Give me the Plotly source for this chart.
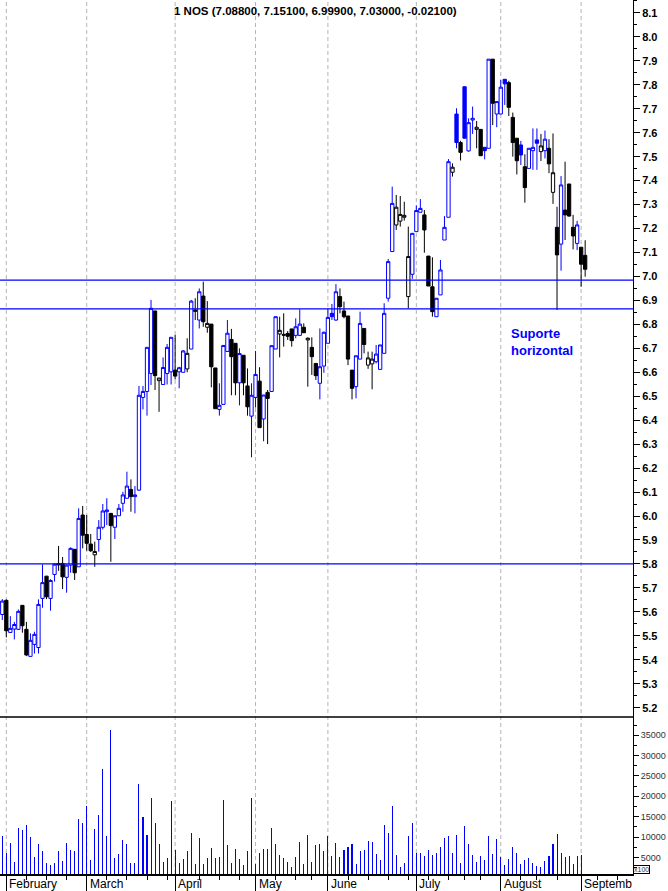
import plotly.graph_objects as go

# ---------------- data ----------------
day = list(range(146))

opens = [5.589, 5.648, 5.514, 5.528, 5.527, 5.627, 5.527, 5.414, 5.464, 5.451,
         5.656, 5.749, 5.656, 5.756, 5.802, 5.802, 5.744, 5.795, 5.861, 5.788,
         6.004, 5.923, 5.883, 5.838, 5.902, 5.953, 6.018, 6.011, 5.953, 6.001,
         6.053, 6.074, 6.111, 6.081, 6.108, 6.495, 6.520, 6.595, 6.856, 6.565,
         6.549, 6.595, 6.602, 6.609, 6.602, 6.600, 6.614, 6.697, 6.860, 6.818,
         6.918, 6.788, 6.801, 6.618, 6.445, 6.466, 6.687, 6.737, 6.721, 6.556,
         6.671, 6.543, 6.417, 6.495, 6.563, 6.405, 6.516, 6.520, 6.697, 6.760,
         6.758, 6.762, 6.781, 6.754, 6.754, 6.788, 6.735, 6.704, 6.637, 6.554,
         6.626, 6.721, 6.846, 6.818, 6.916, 6.856, 6.835, 6.609, 6.540, 6.655,
         6.783, 6.630, 6.635, 6.644, 6.612, 6.679, 6.909, 7.104, 7.215, 7.231,
         7.247, 6.916, 7.009, 7.187, 7.268, 7.257, 7.085, 6.957, 6.832, 6.923,
         7.152, 7.247, 7.435, 7.678, 7.559, 7.792, 7.524, 7.653, 7.614, 7.614,
         7.539, 7.535, 7.907, 7.678, 7.678, 7.823, 7.809, 7.664, 7.577, 7.549,
         7.458, 7.451, 7.525, 7.570, 7.521, 7.525, 7.535, 7.351, 7.205, 7.135,
         7.277, 7.386, 7.205, 7.138, 7.122, 7.088]

highs = [5.653, 5.652, 5.582, 5.558, 5.610, 5.627, 5.558, 5.510, 5.517, 5.652,
         5.798, 5.749, 5.736, 5.802, 5.875, 5.829, 5.798, 5.869, 5.861, 6.032,
         6.042, 6.004, 5.925, 5.893, 5.983, 6.050, 6.074, 6.011, 6.001, 6.050,
         6.101, 6.185, 6.153, 6.125, 6.543, 6.543, 6.704, 6.902, 6.856, 6.576,
         6.662, 6.718, 6.746, 6.756, 6.623, 6.693, 6.742, 6.902, 6.909, 6.950,
         6.978, 6.897, 6.801, 6.618, 6.554, 6.712, 6.818, 6.781, 6.721, 6.700,
         6.671, 6.616, 6.554, 6.689, 6.621, 6.505, 6.526, 6.711, 6.832, 6.832,
         6.846, 6.772, 6.781, 6.825, 6.863, 6.804, 6.746, 6.746, 6.637, 6.783,
         6.770, 6.867, 6.885, 6.968, 6.950, 6.895, 6.835, 6.609, 6.669, 6.853,
         6.783, 6.686, 6.686, 6.714, 6.714, 6.888, 7.073, 7.375, 7.340, 7.336,
         7.312, 7.208, 7.180, 7.296, 7.323, 7.277, 7.085, 7.080, 6.909, 7.069,
         7.252, 7.490, 7.472, 7.702, 7.566, 7.792, 7.660, 7.709, 7.649, 7.614,
         7.539, 7.907, 7.907, 7.730, 7.820, 7.823, 7.817, 7.684, 7.577, 7.566,
         7.510, 7.535, 7.618, 7.618, 7.595, 7.609, 7.573, 7.597, 7.291, 7.419,
         7.479, 7.386, 7.257, 7.232, 7.122, 7.151]

lows = [5.566, 5.493, 5.514, 5.485, 5.524, 5.513, 5.415, 5.414, 5.426, 5.426,
        5.617, 5.653, 5.605, 5.726, 5.771, 5.695, 5.680, 5.763, 5.733, 5.788,
        5.865, 5.855, 5.850, 5.788, 5.851, 5.944, 5.962, 5.809, 5.904, 6.001,
        6.018, 6.074, 6.018, 6.011, 6.105, 6.445, 6.419, 6.547, 6.526, 6.435,
        6.549, 6.549, 6.549, 6.570, 6.533, 6.600, 6.600, 6.697, 6.818, 6.783,
        6.790, 6.765, 6.537, 6.448, 6.419, 6.466, 6.687, 6.504, 6.504, 6.462,
        6.504, 6.419, 6.245, 6.453, 6.369, 6.312, 6.300, 6.520, 6.697, 6.662,
        6.707, 6.735, 6.707, 6.742, 6.751, 6.765, 6.540, 6.589, 6.568, 6.487,
        6.598, 6.721, 6.818, 6.815, 6.846, 6.825, 6.630, 6.487, 6.491, 6.655,
        6.679, 6.614, 6.529, 6.637, 6.612, 6.679, 6.895, 7.104, 7.194, 7.208,
        7.233, 6.867, 6.990, 7.187, 7.268, 7.099, 6.960, 6.832, 6.832, 6.923,
        7.152, 7.247, 7.417, 7.535, 7.484, 7.577, 7.521, 7.595, 7.535, 7.504,
        7.489, 7.535, 7.632, 7.623, 7.678, 7.716, 7.670, 7.500, 7.426, 7.465,
        7.308, 7.451, 7.445, 7.445, 7.482, 7.493, 7.431, 7.303, 6.860, 7.024,
        7.152, 7.250, 7.113, 7.110, 6.957, 6.999]

closes = [5.645, 5.521, 5.531, 5.547, 5.602, 5.542, 5.420, 5.481, 5.506, 5.631,
          5.722, 5.663, 5.731, 5.799, 5.796, 5.746, 5.795, 5.865, 5.763, 5.990,
          5.920, 5.886, 5.855, 5.852, 5.953, 6.021, 6.025, 5.960, 6.001, 6.032,
          6.088, 6.125, 6.081, 6.088, 6.504, 6.520, 6.704, 6.867, 6.586, 6.576,
          6.620, 6.704, 6.746, 6.584, 6.619, 6.689, 6.679, 6.897, 6.855, 6.936,
          6.811, 6.804, 6.623, 6.448, 6.462, 6.712, 6.763, 6.665, 6.556, 6.678,
          6.556, 6.456, 6.504, 6.591, 6.369, 6.505, 6.491, 6.711, 6.832, 6.775,
          6.755, 6.750, 6.732, 6.790, 6.801, 6.765, 6.742, 6.665, 6.586, 6.623,
          6.767, 6.829, 6.832, 6.936, 6.874, 6.832, 6.655, 6.533, 6.669, 6.804,
          6.716, 6.660, 6.655, 6.676, 6.714, 6.846, 7.062, 7.305, 7.289, 7.259,
          7.255, 7.083, 7.180, 7.275, 7.284, 7.194, 6.960, 6.853, 6.909, 7.027,
          7.205, 7.479, 7.456, 7.559, 7.518, 7.577, 7.642, 7.660, 7.623, 7.504,
          7.525, 7.907, 7.723, 7.730, 7.790, 7.804, 7.706, 7.559, 7.483, 7.507,
          7.371, 7.535, 7.539, 7.556, 7.545, 7.573, 7.470, 7.433, 7.090, 7.382,
          7.257, 7.252, 7.169, 7.215, 7.051, 7.030]

volume = [10300, 6200, 8600, 3900, 12300, 11800, 13000, 10100, 5200, 8400,
          6600, 3700, 3200, 3700, 6600, 4200, 8600, 6900, 6600, 14500,
          13500, 17700, 4400, 12000, 15500, 26700, 10300, 36300, 4900, 5900,
          9300, 8400, 3700, 3700, 23100, 15000, 10600, 19600, 13500, 8400,
          3900, 4900, 18900, 6900, 3700, 4700, 6600, 11100, 3500, 9800,
          3500, 4900, 7400, 4900, 5200, 19100, 8100, 3700, 7100, 4700,
          3200, 6600, 19600, 3500, 6200, 7100, 7100, 12300, 8400, 5700,
          4900, 3900, 2700, 5200, 8800, 3500, 10600, 3900, 8100, 8400,
          6600, 10300, 5400, 8600, 5200, 6900, 7600, 8400, 3500, 6600,
          6900, 9100, 8800, 5900, 4400, 13000, 11100, 17700, 5700, 2700,
          3700, 10300, 13500, 6200, 6200, 5400, 6900, 5700, 6200, 7600,
          9800, 10300, 6200, 10600, 3700, 12800, 8400, 5700, 3900, 5400,
          4400, 10300, 5900, 9600, 5200, 3200, 4700, 7600, 6200, 3500,
          4400, 4900, 3700, 3000, 2700, 4200, 5400, 8400, 10800, 6200,
          5200, 5400, 3500, 5400, 5700, None]

months = ["February", "March", "April", "May", "June", "July", "August", "Septemb"]
month_start = [1, 21, 43, 63, 81, 103, 124, 144]
week_ticks = [6, 11, 16, 26, 31, 36, 41, 49, 54, 59, 68, 73, 77, 86, 91, 96, 101,
              106, 111, 115, 119, 129, 133, 138, 148, 153]
price_ticks = [round(5.2 + 0.1 * k, 1) for k in range(30)]
price_minor = [round(5.25 + 0.1 * k, 2) for k in range(30)]
vol_ticks = [5000, 10000, 15000, 20000, 25000, 30000, 35000]
vol_minor = [2500, 7500, 12500, 17500, 22500, 27500, 32500, 37500]
support_levels = [6.985, 6.865, 5.80]
title_text = "1 NOS (7.08800, 7.15100, 6.99900, 7.03000, -0.02100)"

BLUE = "#0000ff"
BLACK = "#000000"
FONT = "Arial, Liberation Sans, sans-serif"

# split by close vs previous close (blue up, black down)
blue_idx = [i for i in day if i == 0 or closes[i] >= closes[i - 1]]
black_idx = [i for i in day if not (i == 0 or closes[i] >= closes[i - 1])]


def sub(lst, idx):
    return [lst[i] for i in idx]


fig = go.Figure()

fig.add_trace(go.Bar(
    x=day, y=volume, width=0.26, marker=dict(color=BLUE, line=dict(width=0)),
    yaxis="y2", hoverinfo="skip", showlegend=False))

for idx, col in [(blue_idx, BLUE), (black_idx, BLACK)]:
    fig.add_trace(go.Candlestick(
        x=idx, open=sub(opens, idx), high=sub(highs, idx),
        low=sub(lows, idx), close=sub(closes, idx),
        increasing=dict(line=dict(color=col, width=1), fillcolor="white"),
        decreasing=dict(line=dict(color=col, width=1), fillcolor=col),
        whiskerwidth=0, hoverinfo="skip", showlegend=False, yaxis="y"))

SEP = (874 - 717) / 874.0

shapes = []
for m in month_start:
    shapes.append(dict(type="line", xref="x", yref="paper", x0=m, x1=m, y0=0, y1=1,
                       line=dict(color="#b4b4b4", width=1, dash="4px,3px"), layer="below"))
for lv in support_levels:
    shapes.append(dict(type="line", xref="paper", yref="y", x0=0, x1=1, y0=lv, y1=lv,
                       line=dict(color=BLUE, width=1.3)))
shapes.append(dict(type="line", xref="paper", yref="paper", x0=0, x1=1, y0=SEP, y1=SEP,
                   line=dict(color=BLACK, width=1.5)))

annotations = [
    dict(text="<b>" + title_text + "</b>", xref="paper", yref="paper",
         x=315 / 633.0, y=(874 - 11) / 874.0, xanchor="center", yanchor="middle",
         showarrow=False, font=dict(family=FONT, size=11.5, color=BLACK)),
    dict(text="<b>Suporte<br>horizontal</b>", xref="x", yref="y",
         x=126, y=6.80, xanchor="left", yanchor="top", align="left",
         showarrow=False, font=dict(family=FONT, size=13, color=BLUE)),
    dict(text="x100", xref="paper", yref="paper", x=1.0, y=0, xanchor="left",
         yanchor="bottom", showarrow=False, bordercolor=BLACK, borderwidth=1,
         borderpad=0, font=dict(family=FONT, size=7, color="#333333")),
]
for name, m in zip(months, month_start):
    annotations.append(dict(text=name, xref="x", yref="paper", x=m, y=-10 / 874.0,
                            xanchor="left", yanchor="middle", xshift=1, showarrow=False,
                            font=dict(family=FONT, size=12, color=BLACK)))

fig.update_layout(
    width=668, height=891,
    margin=dict(l=0, r=35, t=0, b=17, pad=0),
    paper_bgcolor="white", plot_bgcolor="white",
    showlegend=False, boxgap=0.18, boxgroupgap=0, bargap=0,
    shapes=shapes, annotations=annotations,
    xaxis=dict(domain=[0, 1], range=[-0.57, 156.9], anchor="y2",
               showline=True, linecolor=BLACK, linewidth=1.5, mirror=False,
               ticks="outside", tickvals=month_start, ticklen=17, tickwidth=1,
               tickcolor=BLACK, showticklabels=False, showgrid=False, zeroline=False,
               rangeslider=dict(visible=False),
               minor=dict(tickvals=week_ticks, ticks="outside", ticklen=4,
                          tickcolor=BLACK, tickwidth=1, showgrid=False)),
    yaxis=dict(domain=[SEP, 1], range=[5.161, 8.154], side="right", anchor="x",
               showline=True, linecolor=BLACK, linewidth=1, ticks="outside",
               ticklen=6, tickwidth=1, tickcolor=BLACK,
               tickvals=price_ticks, ticktext=["%.1f" % v for v in price_ticks],
               tickfont=dict(family=FONT, size=11, color=BLACK, weight="bold"),
               showgrid=False, zeroline=False,
               minor=dict(tickvals=price_minor, ticks="outside", ticklen=3,
                          tickcolor=BLACK, tickwidth=1, showgrid=False)),
    yaxis2=dict(domain=[0, SEP], range=[930, 39480], side="right", anchor="x",
                showline=True, linecolor=BLACK, linewidth=1, ticks="outside",
                ticklen=5, tickwidth=1, tickcolor=BLACK,
                tickvals=vol_ticks, ticktext=[str(v) for v in vol_ticks],
                tickfont=dict(family=FONT, size=9, color="#333333"),
                showgrid=False, zeroline=False,
                minor=dict(tickvals=vol_minor, ticks="outside", ticklen=3,
                           tickcolor=BLACK, tickwidth=1, showgrid=False)),
)

fig.write_html("out.html",
               config={"displayModeBar": False, "staticPlot": True},
               post_script="document.body.style.margin='0px';"
                           "document.body.style.overflow='hidden';")
